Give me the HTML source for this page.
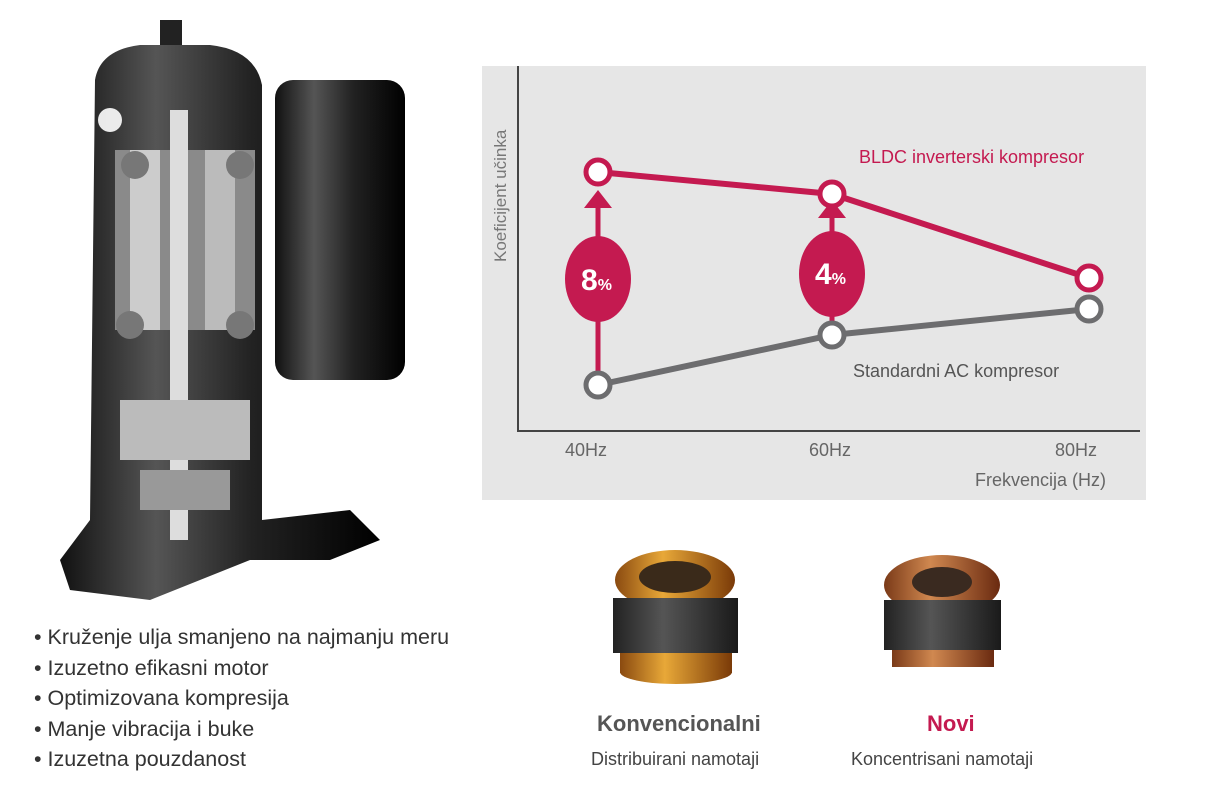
<!DOCTYPE html>
<html><head><meta charset="utf-8"><style>
body{margin:0;width:1211px;height:804px;background:#fff;position:relative;overflow:hidden;font-family:"Liberation Sans",sans-serif;}
.t{position:absolute;white-space:nowrap;}
</style></head><body>
<svg width="1211" height="804" style="position:absolute;left:0;top:0">
<defs>
<linearGradient id="cyl" x1="0" x2="1"><stop offset="0" stop-color="#111"/><stop offset="0.3" stop-color="#555"/><stop offset="0.6" stop-color="#222"/><stop offset="1" stop-color="#000"/></linearGradient>
<linearGradient id="gold" x1="0" x2="1"><stop offset="0" stop-color="#8a4a10"/><stop offset="0.4" stop-color="#e8a838"/><stop offset="1" stop-color="#7a3a08"/></linearGradient>
<linearGradient id="cop" x1="0" x2="1"><stop offset="0" stop-color="#7a3a18"/><stop offset="0.4" stop-color="#d08850"/><stop offset="1" stop-color="#6a2a10"/></linearGradient>
<linearGradient id="coil" x1="0" x2="1"><stop offset="0" stop-color="#222"/><stop offset="0.4" stop-color="#555"/><stop offset="1" stop-color="#1a1a1a"/></linearGradient>
</defs>
<rect x="160" y="20" width="22" height="50" fill="#222"/>
<path d="M60 560 L90 520 L95 80 Q100 50 140 45 L210 45 Q255 50 262 85 L262 520 L350 510 L380 540 L330 560 L250 560 L150 600 L70 590 Z" fill="url(#cyl)"/>
<rect x="275" y="80" width="130" height="300" rx="18" fill="url(#cyl)"/>
<rect x="115" y="150" width="140" height="180" fill="#8a8a8a"/>
<rect x="130" y="150" width="30" height="180" fill="#ccc"/>
<rect x="205" y="150" width="30" height="180" fill="#bbb"/>
<rect x="170" y="110" width="18" height="430" fill="#ddd"/>
<circle cx="135" cy="165" r="14" fill="#777"/><circle cx="240" cy="165" r="14" fill="#777"/>
<circle cx="130" cy="325" r="14" fill="#777"/><circle cx="240" cy="325" r="14" fill="#777"/>
<rect x="120" y="400" width="130" height="60" fill="#bbb"/>
<rect x="140" y="470" width="90" height="40" fill="#999"/>
<circle cx="110" cy="120" r="12" fill="#fff" opacity="0.9"/>
<rect x="482" y="66" width="664" height="434" fill="#e6e6e6"/>
<path d="M518 66 V431 H1140" fill="none" stroke="#444" stroke-width="2"/>
<polyline points="598,385 832,335 1089,309" fill="none" stroke="#6d6d6f" stroke-width="6"/>
<polyline points="598,172 832,194 1089,278" fill="none" stroke="#c41a50" stroke-width="6"/>
<line x1="598" y1="385" x2="598" y2="205" stroke="#c41a50" stroke-width="5"/>
<polygon points="598,190 584,208 612,208" fill="#c41a50"/>
<line x1="832" y1="335" x2="832" y2="215" stroke="#c41a50" stroke-width="5"/>
<polygon points="832,200 818,218 846,218" fill="#c41a50"/>
<ellipse cx="598" cy="279" rx="33" ry="43" fill="#c41a50"/>
<ellipse cx="832" cy="274" rx="33" ry="43" fill="#c41a50"/>
<g fill="#fff" stroke-width="5">
<circle cx="598" cy="172" r="12" stroke="#c41a50"/><circle cx="832" cy="194" r="12" stroke="#c41a50"/><circle cx="1089" cy="278" r="12" stroke="#c41a50"/>
<circle cx="598" cy="385" r="12" stroke="#6d6d6f"/><circle cx="832" cy="335" r="12" stroke="#6d6d6f"/><circle cx="1089" cy="309" r="12" stroke="#6d6d6f"/>
</g>
<ellipse cx="675" cy="580" rx="60" ry="30" fill="url(#gold)"/>
<ellipse cx="675" cy="577" rx="36" ry="16" fill="#3a2a1a"/>
<rect x="613" y="598" width="125" height="55" fill="url(#coil)"/>
<rect x="620" y="653" width="112" height="20" fill="url(#gold)"/>
<ellipse cx="676" cy="672" rx="56" ry="12" fill="url(#gold)"/>
<ellipse cx="942" cy="585" rx="58" ry="30" fill="url(#cop)"/>
<ellipse cx="942" cy="582" rx="30" ry="15" fill="#3a2a20"/>
<rect x="884" y="600" width="117" height="50" fill="url(#coil)"/>
<rect x="892" y="650" width="102" height="17" fill="url(#cop)"/>
<text x="0" y="0" transform="translate(506 262) rotate(-90)" font-family="Liberation Sans" font-size="17" fill="#777">Koeficijent učinka</text>
</svg>
<div class="t" style="left:859px;top:147px;font-size:18px;color:#c41a50">BLDC inverterski kompresor</div>
<div class="t" style="left:853px;top:361px;font-size:18px;color:#555">Standardni AC kompresor</div>
<div class="t" style="left:565px;top:440px;font-size:18px;color:#666">40Hz</div>
<div class="t" style="left:809px;top:440px;font-size:18px;color:#666">60Hz</div>
<div class="t" style="left:1055px;top:440px;font-size:18px;color:#666">80Hz</div>
<div class="t" style="left:975px;top:470px;font-size:18px;color:#666">Frekvencija (Hz)</div>
<div class="t" style="left:581px;top:264px;font-size:30px;font-weight:bold;color:#fff">8<span style="font-size:16px">%</span></div>
<div class="t" style="left:815px;top:258px;font-size:30px;font-weight:bold;color:#fff">4<span style="font-size:16px">%</span></div>
<div class="t" style="left:34px;top:622px;font-size:21.5px;color:#333;line-height:30.5px">• Kruženje ulja smanjeno na najmanju meru<br>• Izuzetno efikasni motor<br>• Optimizovana kompresija<br>• Manje vibracija i buke<br>• Izuzetna pouzdanost</div>
<div class="t" style="left:597px;top:711px;font-size:22px;font-weight:bold;color:#555">Konvencionalni</div>
<div class="t" style="left:591px;top:749px;font-size:18px;color:#444">Distribuirani namotaji</div>
<div class="t" style="left:927px;top:711px;font-size:22px;font-weight:bold;color:#c41a50">Novi</div>
<div class="t" style="left:851px;top:749px;font-size:18px;color:#444">Koncentrisani namotaji</div>
</body></html>
